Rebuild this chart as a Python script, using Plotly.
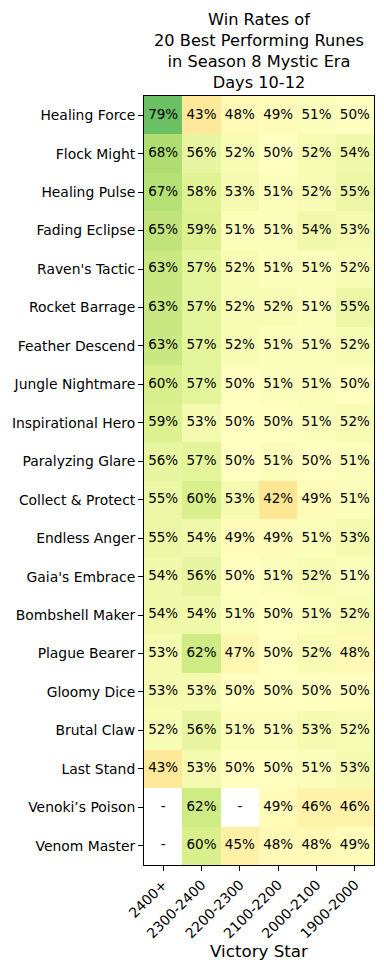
import plotly.graph_objects as go

runes = ["Healing Force", "Flock Might", "Healing Pulse", "Fading Eclipse", "Raven's Tactic",
         "Rocket Barrage", "Feather Descend", "Jungle Nightmare", "Inspirational Hero",
         "Paralyzing Glare", "Collect & Protect", "Endless Anger", "Gaia's Embrace",
         "Bombshell Maker", "Plague Bearer", "Gloomy Dice", "Brutal Claw", "Last Stand",
         "Venoki\u2019s Poison", "Venom Master"]
brackets = ["2400+", "2300-2400", "2200-2300", "2100-2200", "2000-2100", "1900-2000"]

win_2400 = [79, 68, 67, 65, 63, 63, 63, 60, 59, 56, 55, 55, 54, 54, 53, 53, 52, 43, None, None]
win_2300 = [43, 56, 58, 59, 57, 57, 57, 57, 53, 57, 60, 54, 56, 54, 62, 53, 56, 53, 62, 60]
win_2200 = [48, 52, 53, 51, 52, 52, 52, 50, 50, 50, 53, 49, 50, 51, 47, 50, 51, 50, None, 45]
win_2100 = [49, 50, 51, 51, 51, 52, 51, 51, 50, 51, 42, 49, 51, 50, 50, 50, 51, 50, 49, 48]
win_2000 = [51, 52, 52, 54, 51, 51, 51, 51, 51, 50, 49, 51, 52, 51, 52, 50, 53, 51, 46, 48]
win_1900 = [50, 54, 55, 53, 52, 55, 52, 50, 52, 51, 51, 53, 51, 52, 48, 50, 52, 53, 46, 49]

columns = [win_2400, win_2300, win_2200, win_2100, win_2000, win_1900]
z = [[columns[j][i] for j in range(len(brackets))] for i in range(len(runes))]

FONT = "DejaVu Sans"

fig = go.Figure()
fig.add_trace(go.Heatmap(
    z=z, x=brackets, y=runes, colorscale="RdYlGn", zmin=0, zmax=100,
    showscale=False, xgap=0, ygap=0, hoverongaps=False,
))

tx, ty, tt = [], [], []
for i, r in enumerate(runes):
    for j, b in enumerate(brackets):
        v = columns[j][i]
        tx.append(b)
        ty.append(r)
        tt.append("-" if v is None else f"{v}%")
fig.add_trace(go.Scatter(x=tx, y=ty, text=tt, mode="text",
                         textfont=dict(family=FONT, size=13.5, color="black"),
                         showlegend=False, hoverinfo="skip"))

fig.update_layout(
    width=384, height=971,
    margin=dict(l=144, r=10, t=96, b=106),
    paper_bgcolor="white", plot_bgcolor="white",
    font=dict(family=FONT, size=13.9, color="black"),
    title=dict(text="Win Rates of<br>20 Best Performing Runes<br>in Season 8 Mystic Era<br>Days 10-12",
               x=(144 + 115) / 384, xanchor="center", xref="container",
               y=1 - 25 / 971, yanchor="top", yref="container",
               font=dict(family=FONT, size=16.2, color="black")),
    showlegend=False,
)
fig.update_xaxes(type="category", range=[-0.5, len(brackets) - 0.5], tickangle=-45,
                 ticks="outside", ticklen=5, tickcolor="black",
                 showline=True, linecolor="black", linewidth=1, mirror=True, showgrid=False,
                 zeroline=False, tickfont=dict(family=FONT, size=13.9),
                 title=dict(text="Victory Star", font=dict(family=FONT, size=16.7), standoff=4))
fig.update_yaxes(type="category", range=[len(runes) - 0.5, -0.5], ticks="outside", ticklen=5,
                 tickcolor="black",
                 showline=True, linecolor="black", linewidth=1, mirror=True, showgrid=False,
                 zeroline=False, tickfont=dict(family=FONT, size=13.9))

fig.write_html("out.html")
